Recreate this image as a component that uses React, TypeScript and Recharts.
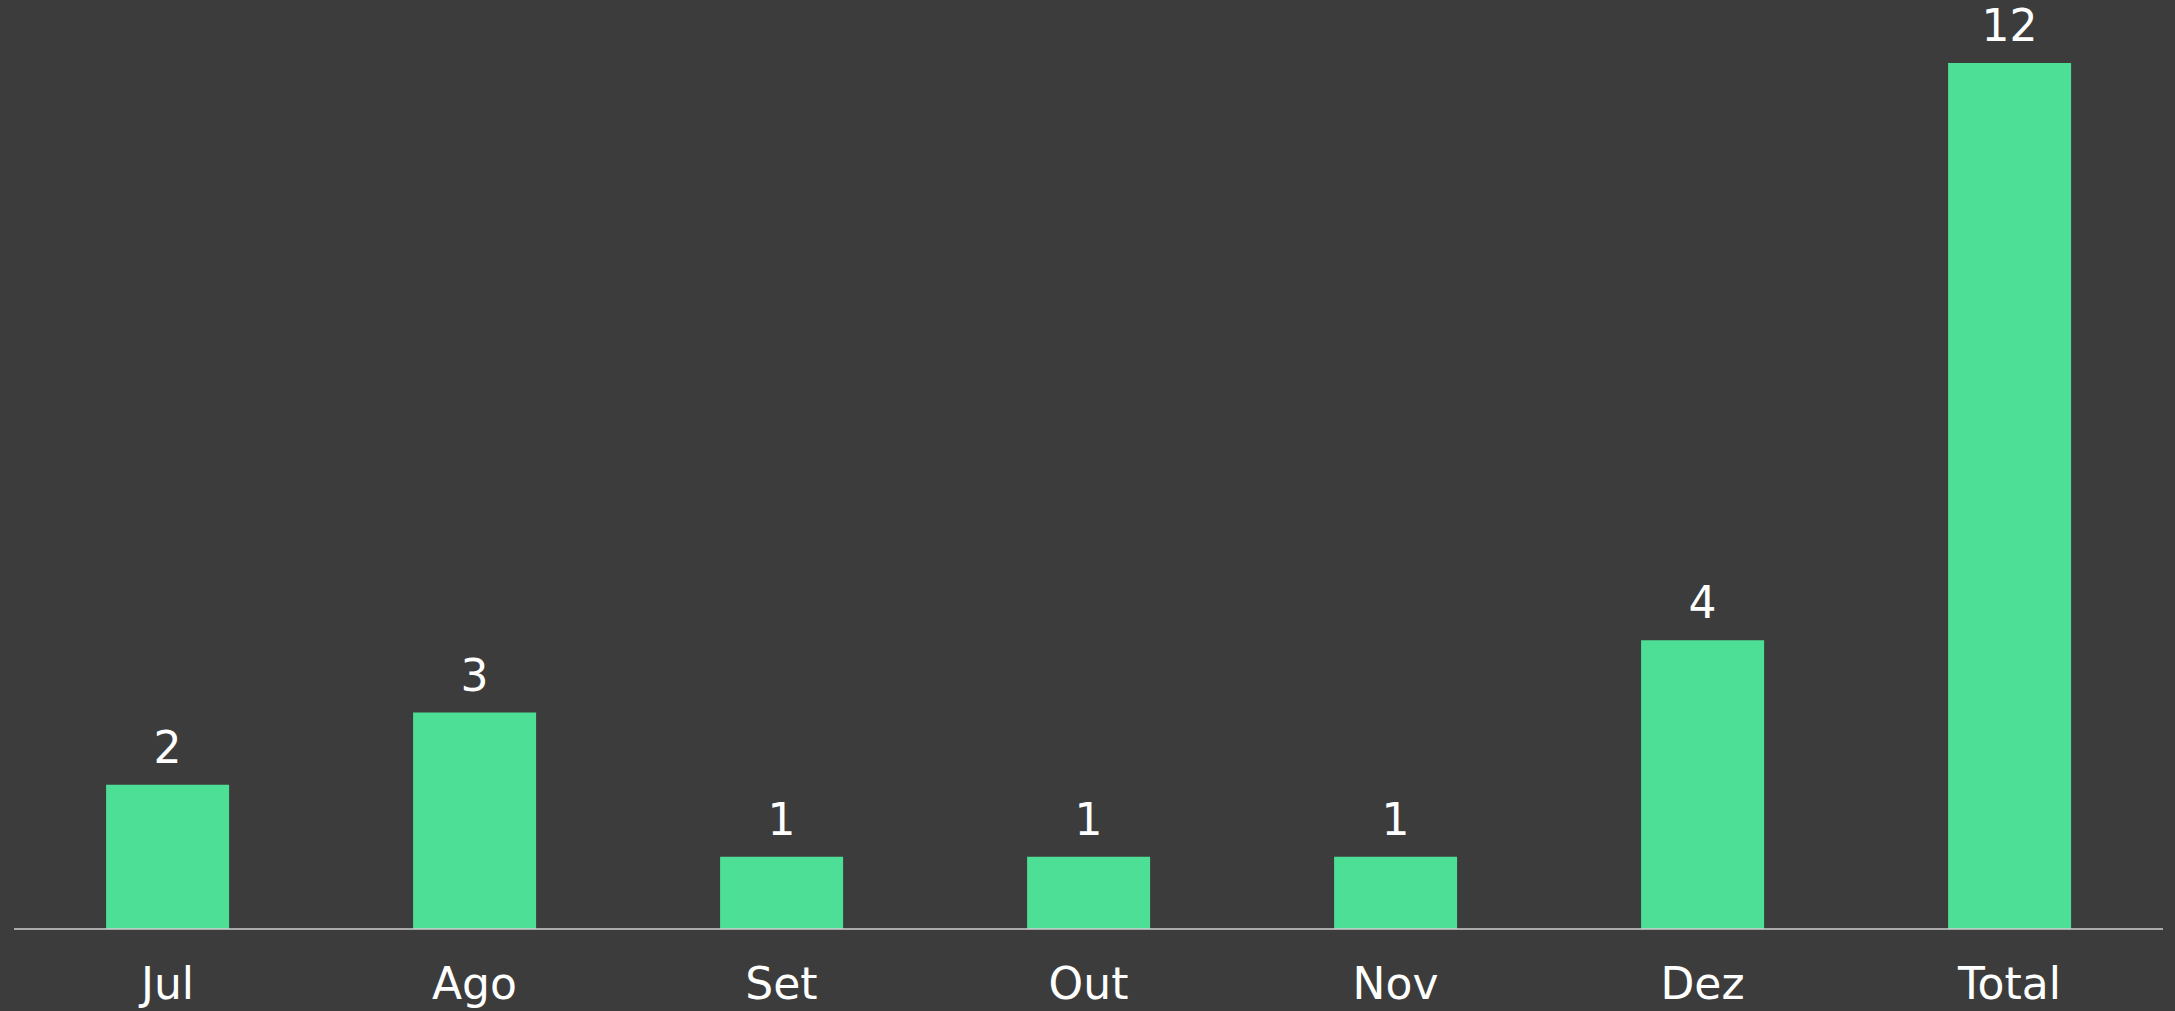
import React from "react";
import { Bar, BarChart, LabelList, XAxis, YAxis } from "recharts";

const months = ["Jul", "Ago", "Set", "Out", "Nov", "Dez", "Total"];
const counts = [2, 3, 1, 1, 1, 4, 12];

const data = months.map((name, i) => ({ name, value: counts[i] }));

const BG = "#3c3c3c";
const BAR = "#4ddf95";
const FONT = "'DejaVu Sans', Verdana, sans-serif";

const App: React.FC = () => {
  return (
    <div style={{ position: "fixed", top: 0, left: 0, width: 2175, height: 1011, background: BG }}>
      <BarChart
        width={2175}
        height={1011}
        data={data}
        margin={{ top: 63, right: 12, left: 14, bottom: 0 }}
        barCategoryGap="30%"
      >
        <XAxis
          dataKey="name"
          height={82}
          tickLine={false}
          tickSize={0}
          tickMargin={39}
          axisLine={{ stroke: "#cfcfcf", strokeWidth: 1.5 }}
          tick={{ fill: "#ffffff", fontSize: 44, fontFamily: FONT }}
          interval={0}
        />
        <YAxis hide domain={[0, 12]} />
        <Bar dataKey="value" fill={BAR} isAnimationActive={false}>
          <LabelList
            dataKey="value"
            position="top"
            offset={22}
            fill="#ffffff"
            fontSize={44}
            fontFamily={FONT}
          />
        </Bar>
      </BarChart>
    </div>
  );
};

export default App;
